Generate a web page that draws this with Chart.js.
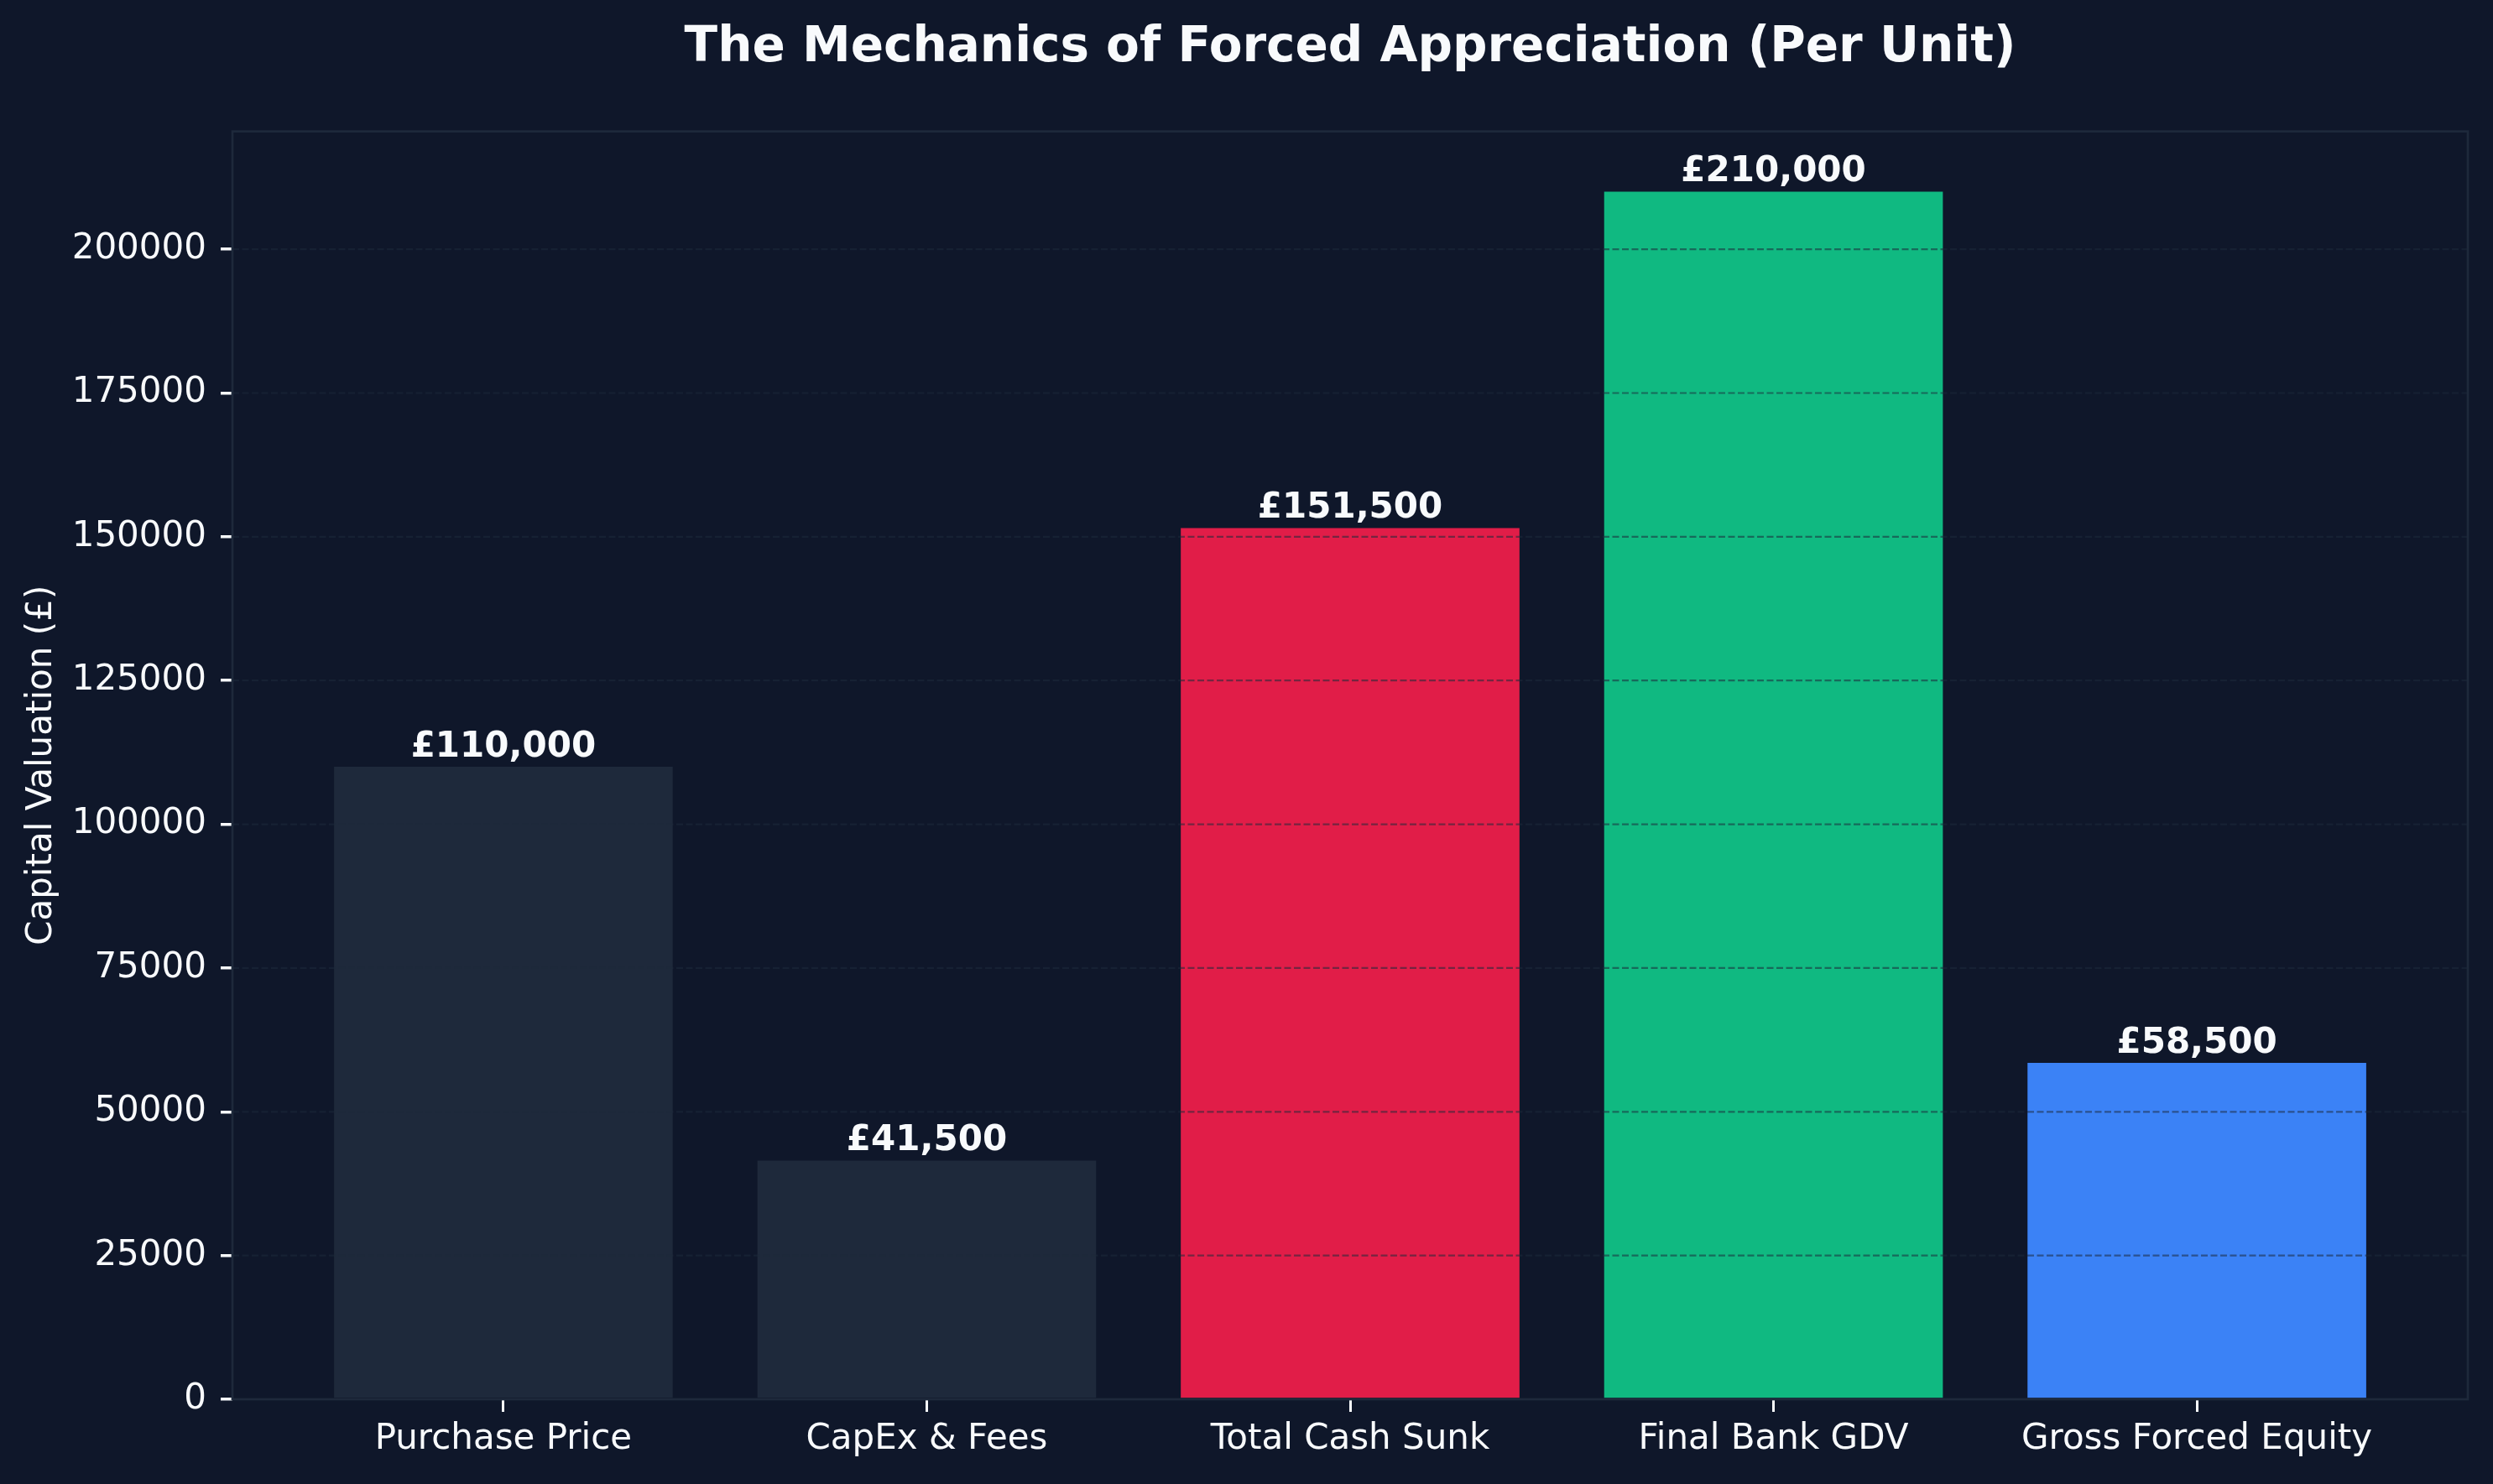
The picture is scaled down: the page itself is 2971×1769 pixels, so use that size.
<!DOCTYPE html>
<html>
<head>
<meta charset="utf-8">
<script src="https://cdn.jsdelivr.net/npm/chart.js@4.4.1/dist/chart.umd.min.js"></script>
<style>
  html, body { margin: 0; padding: 0; background: #0f172a; overflow: hidden; }
  canvas { display: block; }
</style>
</head>
<body>
<canvas id="c" width="2971" height="1769" style="width:2971px;height:1769px"></canvas>
<script>
// ---- data ----
const categories = ["Purchase Price", "CapEx & Fees", "Total Cash Sunk", "Final Bank GDV", "Gross Forced Equity"];
const values = [110000, 41500, 151500, 210000, 58500];
const barColors = ["#1e293b", "#1e293b", "#e11d48", "#10b981", "#3b82f6"];
const yTicks = [0, 25000, 50000, 75000, 100000, 125000, 150000, 175000, 200000];
const titleText = "The Mechanics of Forced Appreciation (Per Unit)";
const yAxisTitle = "Capital Valuation (£)";

const FONT = "'DejaVu Sans', 'Liberation Sans', sans-serif";
const TEXT = "#f8fafc";

const bgPlugin = {
  id: 'bg',
  beforeDraw(chart) {
    const ctx = chart.ctx;
    ctx.save();
    ctx.fillStyle = '#0f172a';
    ctx.fillRect(0, 0, chart.width, chart.height);
    ctx.restore();
  }
};

const overlayPlugin = {
  id: 'overlay',
  afterDatasetsDraw(chart) {
    const ctx = chart.ctx;
    const a = chart.chartArea;
    const ys = chart.scales.y;
    ctx.save();
    // dashed grid above bars (matplotlib default zorder)
    ctx.strokeStyle = 'rgba(30,41,59,0.55)';
    ctx.lineWidth = 2.2;
    ctx.setLineDash([8, 3.5]);
    yTicks.forEach(v => {
      const y = ys.getPixelForValue(v);
      ctx.beginPath();
      ctx.moveTo(a.left, y);
      ctx.lineTo(a.right, y);
      ctx.stroke();
    });
    ctx.setLineDash([]);
    // frame (spines)
    ctx.strokeStyle = '#1e293b';
    ctx.lineWidth = 2.7;
    ctx.strokeRect(a.left, a.top, a.right - a.left, a.bottom - a.top);
    // value labels
    const meta = chart.getDatasetMeta(0);
    ctx.fillStyle = TEXT;
    ctx.font = "bold 42px " + FONT;
    ctx.textAlign = 'center';
    ctx.textBaseline = 'alphabetic';
    meta.data.forEach((bar, i) => {
      ctx.fillText('£' + values[i].toLocaleString('en-GB'), bar.x, bar.y - 12.5);
    });
    ctx.restore();
  }
};

new Chart(document.getElementById('c'), {
  type: 'bar',
  data: {
    datasets: [{
      data: values.map((v, i) => ({ x: i, y: v })),
      backgroundColor: barColors,
      borderWidth: 0,
      barPercentage: 0.8,
      categoryPercentage: 1.0
    }]
  },
  options: {
    responsive: false,
    devicePixelRatio: 1,
    animation: false,
    layout: { padding: { left: 0, right: 30, top: 0, bottom: 0 } },
    plugins: {
      legend: { display: false },
      tooltip: { enabled: false },
      title: {
        display: true,
        fullSize: false,
        text: titleText,
        color: TEXT,
        font: { family: FONT, size: 58, weight: 'bold', lineHeight: 1.2 },
        padding: { top: 23, bottom: 64 }
      }
    },
    scales: {
      x: {
        type: 'linear',
        min: -0.64,
        max: 4.64,
        offset: false,
        afterBuildTicks(scale) { scale.ticks = categories.map((c, i) => ({ value: i })); },
        afterFit(scale) { scale.height = 101; scale.paddingLeft = 0; scale.paddingRight = 0; },
        ticks: {
          color: TEXT,
          font: { family: FONT, size: 42, lineHeight: 1.2 },
          padding: 8,
          maxRotation: 0,
          autoSkip: false,
          callback: (v) => categories[v]
        },
        grid: { display: true, drawOnChartArea: false, drawTicks: true, tickLength: 15, tickColor: TEXT, lineWidth: 3, offset: false },
        border: { display: false }
      },
      y: {
        type: 'linear',
        min: 0,
        max: 220500,
        afterBuildTicks(scale) { scale.ticks = yTicks.map(v => ({ value: v })); },
        afterFit(scale) { scale.width = 277; scale.paddingTop = 0; scale.paddingBottom = 0; },
        ticks: {
          color: TEXT,
          font: { family: FONT, size: 42, lineHeight: 1.2 },
          padding: 17,
          callback: (v) => String(v)
        },
        grid: { display: true, drawOnChartArea: false, drawTicks: true, tickLength: 14, tickColor: TEXT, lineWidth: 3.5 },
        border: { display: false },
        title: {
          display: true,
          text: yAxisTitle,
          color: TEXT,
          font: { family: FONT, size: 42, lineHeight: 1.2 },
          padding: { top: 25, bottom: 0 }
        }
      }
    }
  },
  plugins: [bgPlugin, overlayPlugin]
});
</script>
</body>
</html>
